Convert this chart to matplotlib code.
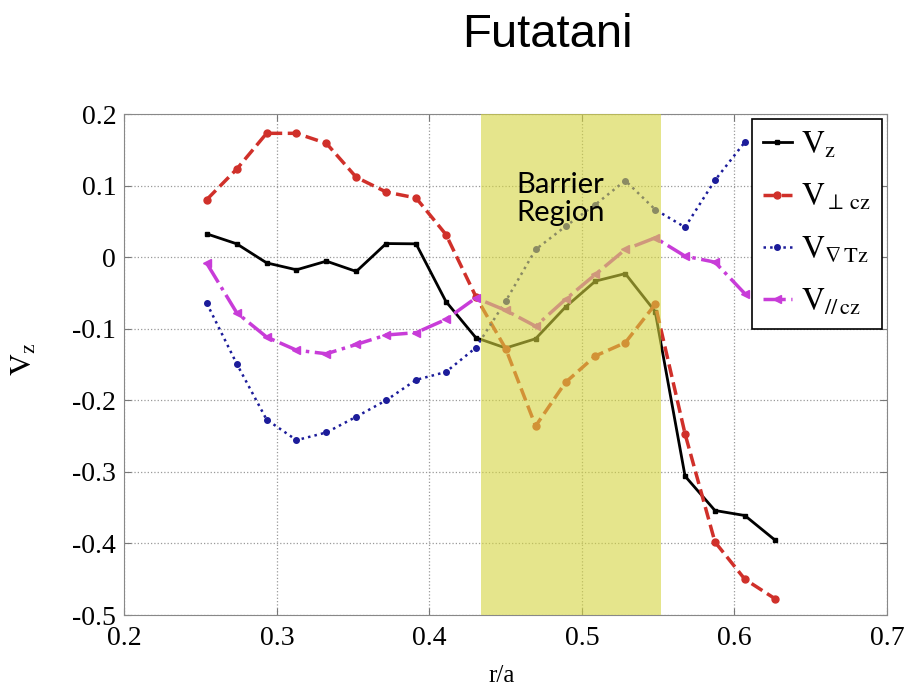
import matplotlib
matplotlib.use("Agg")
import matplotlib.pyplot as plt

plt.rcParams['mathtext.fontset'] = 'stix'
plt.rcParams['font.family'] = ['Liberation Serif', 'DejaVu Serif']

# radial positions r/a
r_pos = [0.254, 0.2736, 0.2932, 0.3128, 0.3324, 0.352, 0.3716, 0.3912, 0.4108, 0.4304,
         0.45, 0.4696, 0.4892, 0.5088, 0.5284, 0.548, 0.5676, 0.5872, 0.6068, 0.6264]

v_z = [0.0325, 0.0186, -0.008, -0.0177, -0.0056, -0.020, 0.019, 0.0186, -0.062, -0.1125,
       -0.127, -0.114, -0.0697, -0.0335, -0.023, -0.076, -0.306, -0.354, -0.361, -0.395]
v_perp = [0.0805, 0.123, 0.173, 0.173, 0.159, 0.1116, 0.091, 0.0827, 0.0316, -0.055,
          -0.128, -0.236, -0.175, -0.138, -0.1195, -0.066, -0.247, -0.398, -0.45, -0.477]
v_gradT = [-0.0646, -0.149, -0.227, -0.2557, -0.245, -0.223, -0.2, -0.1715, -0.1604, -0.1265,
           -0.0614, 0.0107, 0.043, 0.0735, 0.107, 0.0665, 0.0418, 0.1074, 0.1608]
v_par = [-0.0088, -0.0777, -0.1116, -0.130, -0.135, -0.122, -0.1088, -0.1055, -0.087, -0.057,
         -0.0744, -0.0965, -0.059, -0.0241, 0.0107, 0.027, 0.0014, -0.007, -0.051]

barrier = (0.4335, 0.552)

fig = plt.figure(figsize=(9.18, 6.88), dpi=100)
ax = fig.add_axes([0.1356, 0.1061, 0.8306, 0.7282])

ax.plot(r_pos, v_z, '-', color='black', lw=2, marker='s', ms=3, label=r'$\mathrm{V}_{\mathrm{z}}$')
ax.plot(r_pos, v_perp, '--', color='#D0302A', lw=2.5, marker='o', ms=5, label=r'$\mathrm{V}_{\perp\,\mathrm{cz}}$')
ax.plot(r_pos[:len(v_gradT)], v_gradT, ':', color='#1C1C9A', lw=1.8, marker='o', ms=4,
        label=r'$\mathrm{V}_{\nabla\,\mathrm{Tz}}$')
ax.plot(r_pos[:len(v_par)], v_par, '-.', color='#C83CD8', lw=2.5, marker='<', ms=6,
        label=r'$\mathrm{V}_{//\,\mathrm{cz}}$')

# barrier region drawn over the lines, semi transparent
ax.axvspan(barrier[0], barrier[1], color='#D5D53F', alpha=0.6, lw=0, zorder=5)
ax.text(0.4567, 0.081, "Barrier\nRegion", family='Lato', fontsize=21, ha='left', va='center',
        linespacing=1.1, zorder=6)

ax.set_xlim(0.2, 0.7)
ax.set_ylim(-0.5, 0.2)
ax.set_xticks([0.2, 0.3, 0.4, 0.5, 0.6, 0.7])
ax.set_yticks([-0.5, -0.4, -0.3, -0.2, -0.1, 0, 0.1, 0.2])
ax.set_xticklabels(['0.2', '0.3', '0.4', '0.5', '0.6', '0.7'])
ax.set_yticklabels(['-0.5', '-0.4', '-0.3', '-0.2', '-0.1', '0', '0.1', '0.2'])
ax.tick_params(direction='in', top=True, right=True, labelsize=20, length=5, color='#777777')
ax.tick_params(axis='x', pad=8)
ax.tick_params(axis='y', pad=6)
ax.grid(True, linestyle=':', color='#999999', lw=0.9)
for sp in ax.spines.values():
    sp.set_color('#888888')

ax.set_xlabel('r/a', fontsize=18)
ax.xaxis.set_label_coords(0.495, -0.1)
ax.set_ylabel(r'$\mathrm{V}_{\mathrm{z}}$', fontsize=22)
ax.yaxis.set_label_coords(-0.112, 0.51)

leg = ax.legend(loc='upper right', bbox_to_anchor=(0.9934, 0.99), borderaxespad=0,
                fontsize=23, fancybox=False, edgecolor='black', framealpha=1,
                handlelength=0.9, labelspacing=0.7, borderpad=0.35, handletextpad=0.3)
leg.set_zorder(10)
leg.get_frame().set_linewidth(1.2)

fig.text(0.596, 0.949, 'Futatani', family='Liberation Sans', fontsize=34, ha='center', va='center')

fig.savefig('out.png', dpi=100)
